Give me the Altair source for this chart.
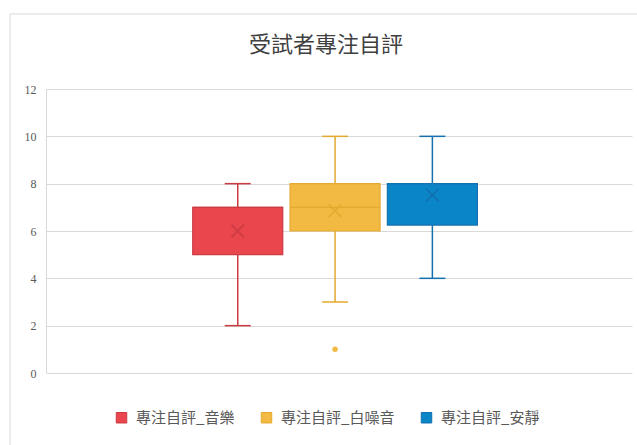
import altair as alt
import pandas as pd

series = ["專注自評_音樂", "專注自評_白噪音", "專注自評_安靜"]
low = [2, 3, 4]
q1 = [5, 6, 6.25]
median = [7, 7, 8]
q3 = [7, 8, 8]
high = [8, 10, 10]
mean = [6, 6.86, 7.52]
outlier_series = ["專注自評_白噪音"]
outlier_values = [1]

fill_colors = ["#E9464E", "#F2BA43", "#0A86C8"]
stroke_colors = ["#CC3A42", "#E4A92F", "#1470AE"]
y_ticks = [0, 2, 4, 6, 8, 10, 12]

pos = list(range(1, len(series) + 1))
df = pd.DataFrame({"series": series, "pos": pos, "low": low, "q1": q1, "median": median,
                   "q3": q3, "high": high, "mean": mean})
odf = pd.DataFrame({"series": outlier_series,
                    "pos": [pos[series.index(s)] for s in outlier_series],
                    "value": outlier_values})

FONT = "Noto Sans CJK TC"
W, H = 586, 284
PAD = {"left": 46, "top": 89, "right": 5, "bottom": 72}

xenc = alt.X("pos:Q", axis=None, scale=alt.Scale(domain=[-0.919, 5.0], nice=False, zero=False))
fill_scale = alt.Scale(domain=series, range=fill_colors)
stroke_scale = alt.Scale(domain=series, range=stroke_colors)
yscale = alt.Scale(domain=[0, 12], nice=False)
yaxis = alt.Axis(values=y_ticks, title=None, labelFont="Liberation Serif", labelFontSize=12,
                 labelColor="#595959", labelPadding=10, ticks=False, domainColor="#D9D9D9",
                 gridColor="#D9D9D9", gridWidth=1)

base = alt.Chart(df)
one = alt.Data(values=[{"a": 1}])

frame_left = alt.Chart(one).mark_rule(stroke="#D9D9D9", strokeWidth=1).encode(
    x=alt.value(-36), y=alt.value(-75), y2=alt.value(H + PAD["bottom"]))
frame_top = alt.Chart(one).mark_rule(stroke="#D9D9D9", strokeWidth=1).encode(
    x=alt.value(-36), x2=alt.value(W + PAD["right"]), y=alt.value(-75))

strk = alt.Stroke("series:N", scale=stroke_scale, sort=series, title=None)
fll = alt.Fill("series:N", scale=fill_scale, sort=series, title=None)

whisk_lo = base.mark_rule(strokeWidth=1.5).encode(
    x=xenc, y=alt.Y("low:Q", scale=yscale, axis=yaxis), y2="q1:Q", stroke=strk)
whisk_hi = base.mark_rule(strokeWidth=1.5).encode(
    x=xenc, y=alt.Y("q3:Q", scale=yscale), y2="high:Q", stroke=strk)

hline = "M-1,0L1,0"
cap_lo = base.mark_point(shape=hline, filled=False, size=26 * 26, strokeWidth=1.5, opacity=1).encode(
    x=xenc, y=alt.Y("low:Q", scale=yscale), stroke=strk)
cap_hi = base.mark_point(shape=hline, filled=False, size=26 * 26, strokeWidth=1.5, opacity=1).encode(
    x=xenc, y=alt.Y("high:Q", scale=yscale), stroke=strk)

box = base.mark_bar(size=90, strokeWidth=1.2, opacity=1).encode(
    x=xenc, y=alt.Y("q1:Q", scale=yscale), y2="q3:Q", fill=fll, stroke=strk)

med = base.mark_point(shape=hline, filled=False, size=90 * 90, strokeWidth=1.2, opacity=1).encode(
    x=xenc, y=alt.Y("median:Q", scale=yscale), stroke=strk)

xshape = "M-1,-1L1,1M-1,1L1,-1"
mean_pt = base.mark_point(shape=xshape, filled=False, size=160, strokeWidth=1.6, opacity=1).encode(
    x=xenc, y=alt.Y("mean:Q", scale=yscale), stroke=strk)

outl = alt.Chart(odf).mark_point(filled=True, size=30, opacity=1).encode(
    x=xenc, y=alt.Y("value:Q", scale=yscale), fill=fll)

chart = alt.layer(frame_left, frame_top, whisk_lo, whisk_hi, cap_lo, cap_hi, box, med,
                  mean_pt, outl).properties(
    width=W, height=H,
    title=alt.TitleParams("受試者專注自評", font=FONT, fontSize=22, fontWeight="normal",
                          color="#404040", anchor="middle", frame="group", dx=-13, offset=-43),
    autosize=alt.AutoSizeParams(type="none"),
    padding=PAD,
    background="white",
).configure_view(stroke="transparent", strokeWidth=0).configure_legend(
    orient="none", legendX=68, legendY=321, direction="horizontal",
    symbolType="square", symbolSize=110, symbolStrokeWidth=1,
    labelFont=FONT, labelFontSize=15, labelColor="#595959",
    columnPadding=24, labelOffset=7, padding=0)

chart.save("out.html", embed_options={"renderer": "svg", "actions": False})
